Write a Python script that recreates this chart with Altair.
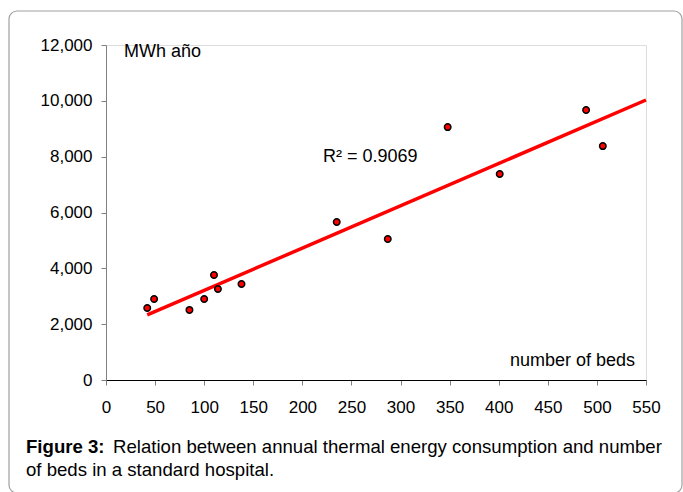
import altair as alt
import pandas as pd

# Data
beds = [42, 49, 85, 100, 110, 114, 138, 235, 287, 348, 401, 489, 506]
mwh = [2580, 2900, 2510, 2900, 3760, 3260, 3440, 5660, 5050, 9060, 7380, 9670, 8380]

trend_x = [42, 550]
trend_y = [2330, 10030]

x_ticks = list(range(0, 551, 50))
y_ticks = list(range(0, 12001, 2000))

FONT = "Liberation Sans"

pts = pd.DataFrame({"beds": beds, "mwh": mwh})
trend = pd.DataFrame({"beds": trend_x, "mwh": trend_y})

xscale = alt.Scale(domain=[0, 550], nice=False, zero=True)
yscale = alt.Scale(domain=[0, 12000], nice=False)

xaxis = alt.Axis(values=x_ticks, title=None, grid=False, domainColor="#000000",
                 tickColor="#808080", tickSize=5, labelFontSize=17, labelFont=FONT,
                 labelColor="#000000", labelPadding=14, labelFlush=False)
yaxis = alt.Axis(values=y_ticks, format=",.0f", title=None, grid=False, domainColor="#808080",
                 tickColor="#808080", tickSize=5, labelFontSize=17, labelFont=FONT,
                 labelColor="#000000", labelPadding=9)

frame = alt.Chart(pd.DataFrame({"a": [0]})).mark_rect(
    fill=None, stroke="#a0a0a0", strokeWidth=1.2, cornerRadius=8
).encode(x=alt.value(-97), x2=alt.value(576), y=alt.value(-34), y2=alt.value(448))

line = alt.Chart(trend).mark_line(color="#ff0000", strokeWidth=3.5).encode(
    x=alt.X("beds:Q", scale=xscale, axis=xaxis),
    y=alt.Y("mwh:Q", scale=yscale, axis=yaxis),
)

points = alt.Chart(pts).mark_point(
    filled=False, fill="#ff0000", fillOpacity=1, stroke="#000000", strokeWidth=1.5, size=42, shape="circle"
).encode(
    x=alt.X("beds:Q", scale=xscale),
    y=alt.Y("mwh:Q", scale=yscale),
)

def label(txt, x, y, size=18, weight="normal", align="left"):
    return alt.Chart(pd.DataFrame({"t": [txt]})).mark_text(
        font=FONT, fontSize=size, fontWeight=weight, align=align, baseline="alphabetic", color="#000000"
    ).encode(text="t:N", x=alt.value(x), y=alt.value(y))

texts = [
    label("MWh año", 18, 12, size=18),
    label("number of beds", 404, 321, size=18),
    label("R² = 0.9069", 217, 117, size=18),
    label("Figure 3:", -80, 408, size=18.6, weight="bold"),
    label("Relation between annual thermal energy consumption and number", 7, 408, size=18.6),
    label("of beds in a standard hospital.", -80, 431, size=18.6),
]

chart = alt.layer(frame, line, points, *texts).properties(
    width=540, height=335,
    autosize=alt.AutoSizeParams(type="none"),
    padding={"left": 106, "top": 45, "right": 37, "bottom": 112},
).configure_view(stroke=None).configure(background="#ffffff")

chart.save("out.html", embed_options={"renderer": "svg", "actions": False})
